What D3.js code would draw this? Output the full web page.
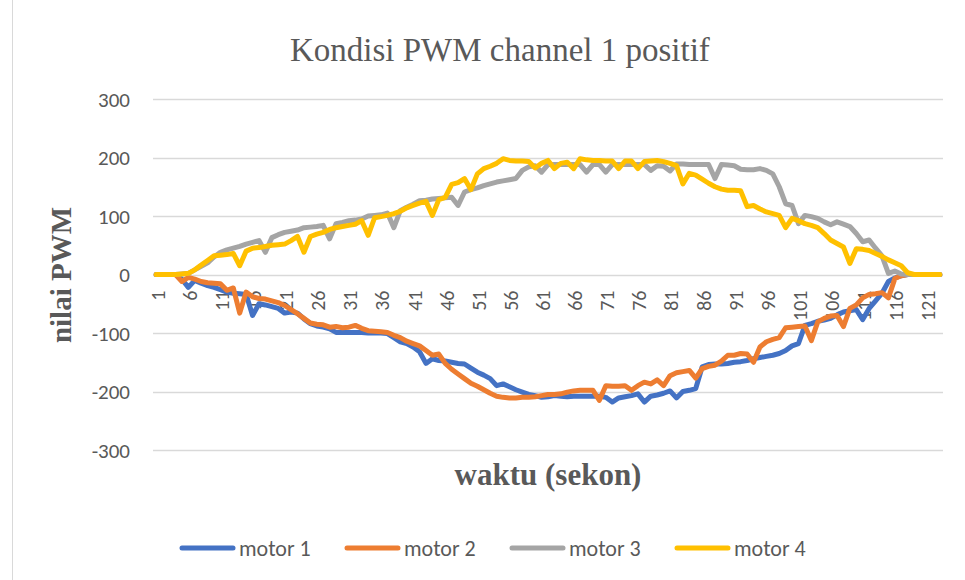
<!DOCTYPE html>
<html>
<head>
<meta charset="utf-8">
<script src="https://cdn.jsdelivr.net/npm/d3@7"></script>
<style>
  body { margin: 0; background: #fff; }
  svg { display: block; }
</style>
</head>
<body>
<div id="chart"></div>
<script>
// time steps (seconds) 1..123
const waktu = d3.range(1, 124)

// PWM values, one per second
const motor1 = [0, 0, 0, 0, -8, -22, -10, -15, -19, -22, -26, -30, -32, -33, -34, -70, -50, -52, -55, -58,
  -66, -64, -66, -76, -84, -88, -90, -93, -99, -99, -99, -99, -99, -100, -100, -100, -101, -108, -115, -118,
  -124, -132, -152, -144, -147, -148, -150, -152, -153, -160, -167, -172, -178, -190, -187, -192, -197, -201, -205, -207,
  -210, -209, -207, -208, -209, -208, -208, -208, -208, -208, -210, -218, -211, -209, -207, -204, -218, -208, -206, -203,
  -199, -211, -200, -198, -195, -158, -154, -153, -153, -152, -150, -149, -147, -144, -142, -140, -138, -135, -130, -122,
  -118, -87, -84, -80, -78, -75, -69, -64, -62, -60, -77, -58, -45, -32, -12, -6, -2, 0, 0, 0,
  0, 0, 0]

const motor2 = [0, 0, 0, 0, -12, -5, -8, -12, -14, -15, -16, -27, -23, -66, -30, -38, -41, -42, -45, -48,
  -53, -60, -67, -75, -83, -85, -86, -90, -89, -91, -90, -87, -92, -96, -97, -98, -99, -104, -108, -114,
  -118, -122, -130, -138, -136, -152, -162, -170, -178, -186, -191, -197, -203, -208, -210, -211, -211, -210, -210, -209,
  -207, -205, -205, -204, -201, -199, -198, -198, -198, -215, -190, -191, -191, -190, -198, -190, -184, -187, -180, -190,
  -173, -168, -166, -164, -177, -161, -157, -155, -148, -138, -138, -135, -136, -150, -124, -115, -111, -108, -91, -90,
  -89, -88, -113, -81, -75, -71, -70, -89, -58, -52, -40, -34, -33, -31, -40, -7, -2, 0, 0, 0,
  0, 0, 0]

const motor3 = [0, 0, 0, 0, 1, 2, 8, 14, 20, 30, 38, 42, 45, 48, 52, 55, 58, 38, 63, 68,
  72, 74, 76, 80, 81, 82, 84, 61, 87, 89, 92, 93, 95, 100, 101, 102, 105, 80, 109, 115,
  120, 126, 127, 129, 130, 131, 132, 118, 141, 145, 148, 152, 155, 158, 160, 162, 164, 178, 184, 186,
  175, 188, 188, 188, 188, 188, 188, 175, 188, 188, 175, 188, 188, 188, 188, 188, 188, 178, 186, 185,
  177, 189, 189, 188, 188, 188, 188, 164, 188, 187, 186, 180, 179, 179, 181, 178, 172, 150, 121, 118,
  87, 101, 99, 96, 90, 85, 90, 86, 82, 70, 56, 59, 45, 32, 2, 6, 1, 0, 0, 0,
  0, 0, 0]

const motor4 = [0, 0, 0, 0, 1, 2, 8, 16, 24, 32, 33, 34, 36, 15, 40, 45, 46, 48, 50, 51,
  52, 58, 65, 38, 65, 69, 72, 77, 80, 82, 84, 86, 92, 67, 97, 99, 101, 104, 108, 114,
  118, 122, 125, 101, 128, 132, 154, 157, 164, 145, 172, 181, 185, 190, 198, 195, 194, 194, 193, 182,
  190, 195, 181, 190, 192, 181, 198, 196, 195, 195, 194, 194, 181, 194, 194, 181, 193, 194, 195, 193,
  190, 186, 155, 173, 170, 163, 156, 150, 146, 144, 144, 143, 116, 118, 112, 107, 104, 101, 80, 96,
  92, 87, 84, 80, 70, 59, 53, 47, 19, 44, 43, 41, 36, 31, 25, 20, 15, 3, 0, 0,
  0, 0, 0]

const seriesNames = ["motor 1", "motor 2", "motor 3", "motor 4"]
const seriesValues = [motor1, motor2, motor3, motor4]
const seriesColors = ["#4472C4", "#ED7D31", "#A5A5A5", "#FFC000"]

const yTicks = [-300, -200, -100, 0, 100, 200, 300]

const width = 965
const height = 580
const sans = "Carlito, 'Liberation Sans', Arial, sans-serif"
const serif = "'Liberation Serif', 'Times New Roman', serif"

const svg = d3.select("#chart")
  .append("svg")
  .attr("width", width)
  .attr("height", height)

// chart frame (only left edge falls inside the picture)
svg.append("rect")
  .attr("x", 12.5)
  .attr("y", -10)
  .attr("width", 1000)
  .attr("height", 620)
  .attr("fill", "none")
  .attr("stroke", "#d9d9d9")

const x = d3.scaleBand()
  .domain(waktu)
  .range([153, 943])

const y = d3.scaleLinear()
  .domain([-300, 300])
  .range([450, 99])

// gridlines
svg.append("g")
  .selectAll("line")
  .data(yTicks)
  .enter().append("line")
  .attr("x1", 153)
  .attr("x2", 943)
  .attr("y1", d => Math.round(y(d)) + 0.5)
  .attr("y2", d => Math.round(y(d)) + 0.5)
  .attr("stroke", "#d9d9d9")
  .attr("stroke-width", 1.5)

// y tick labels
svg.append("g")
  .selectAll("text")
  .data(yTicks)
  .enter().append("text")
  .attr("x", 130)
  .attr("y", d => y(d))
  .attr("dy", "0.36em")
  .attr("text-anchor", "end")
  .attr("font-family", sans)
  .attr("font-size", 21)
  .attr("fill", "#595959")
  .text(d => d)

// x tick labels, every 5th second, rotated
const xLabels = waktu.filter(d => (d - 1) % 5 === 0)
svg.append("g")
  .selectAll("text")
  .data(xLabels)
  .enter().append("text")
  .attr("transform", d => `translate(${x(d) + x.bandwidth() / 2},${y(0) + 16}) rotate(-90)`)
  .attr("dy", "0.42em")
  .attr("text-anchor", "end")
  .attr("font-family", sans)
  .attr("font-size", 20)
  .attr("fill", "#595959")
  .text(d => d)

// series lines
const line = d3.line()
  .x((d, i) => x(waktu[i]) + x.bandwidth() / 2)
  .y(d => y(d))

svg.append("g")
  .selectAll("path")
  .data(seriesValues)
  .enter().append("path")
  .attr("d", line)
  .attr("fill", "none")
  .attr("stroke", (d, i) => seriesColors[i])
  .attr("stroke-width", 5)
  .attr("stroke-linejoin", "round")
  .attr("stroke-linecap", "round")

// titles
svg.append("text")
  .attr("x", 290)
  .attr("y", 61)
  .attr("font-family", serif)
  .attr("font-size", 33)
  .attr("fill", "#595959")
  .text("Kondisi PWM channel 1 positif")

svg.append("text")
  .attr("x", 548)
  .attr("y", 485)
  .attr("text-anchor", "middle")
  .attr("font-family", serif)
  .attr("font-size", 31)
  .attr("font-weight", "bold")
  .attr("fill", "#595959")
  .text("waktu (sekon)")

svg.append("text")
  .attr("transform", `translate(71,275) rotate(-90)`)
  .attr("text-anchor", "middle")
  .attr("font-family", serif)
  .attr("font-size", 29)
  .attr("font-weight", "bold")
  .attr("fill", "#595959")
  .text("nilai PWM")

// legend
const legendX = [180, 345, 510, 675]
const legend = svg.append("g")
  .selectAll("g")
  .data(seriesNames)
  .enter().append("g")
  .attr("transform", (d, i) => `translate(${legendX[i]},548)`)

legend.append("line")
  .attr("x1", 2)
  .attr("x2", 53)
  .attr("stroke", (d, i) => seriesColors[i])
  .attr("stroke-width", 5)
  .attr("stroke-linecap", "round")

legend.append("text")
  .attr("x", 59)
  .attr("dy", "0.36em")
  .attr("font-family", sans)
  .attr("font-size", 22)
  .attr("fill", "#595959")
  .text(d => d)
</script>
</body>
</html>
